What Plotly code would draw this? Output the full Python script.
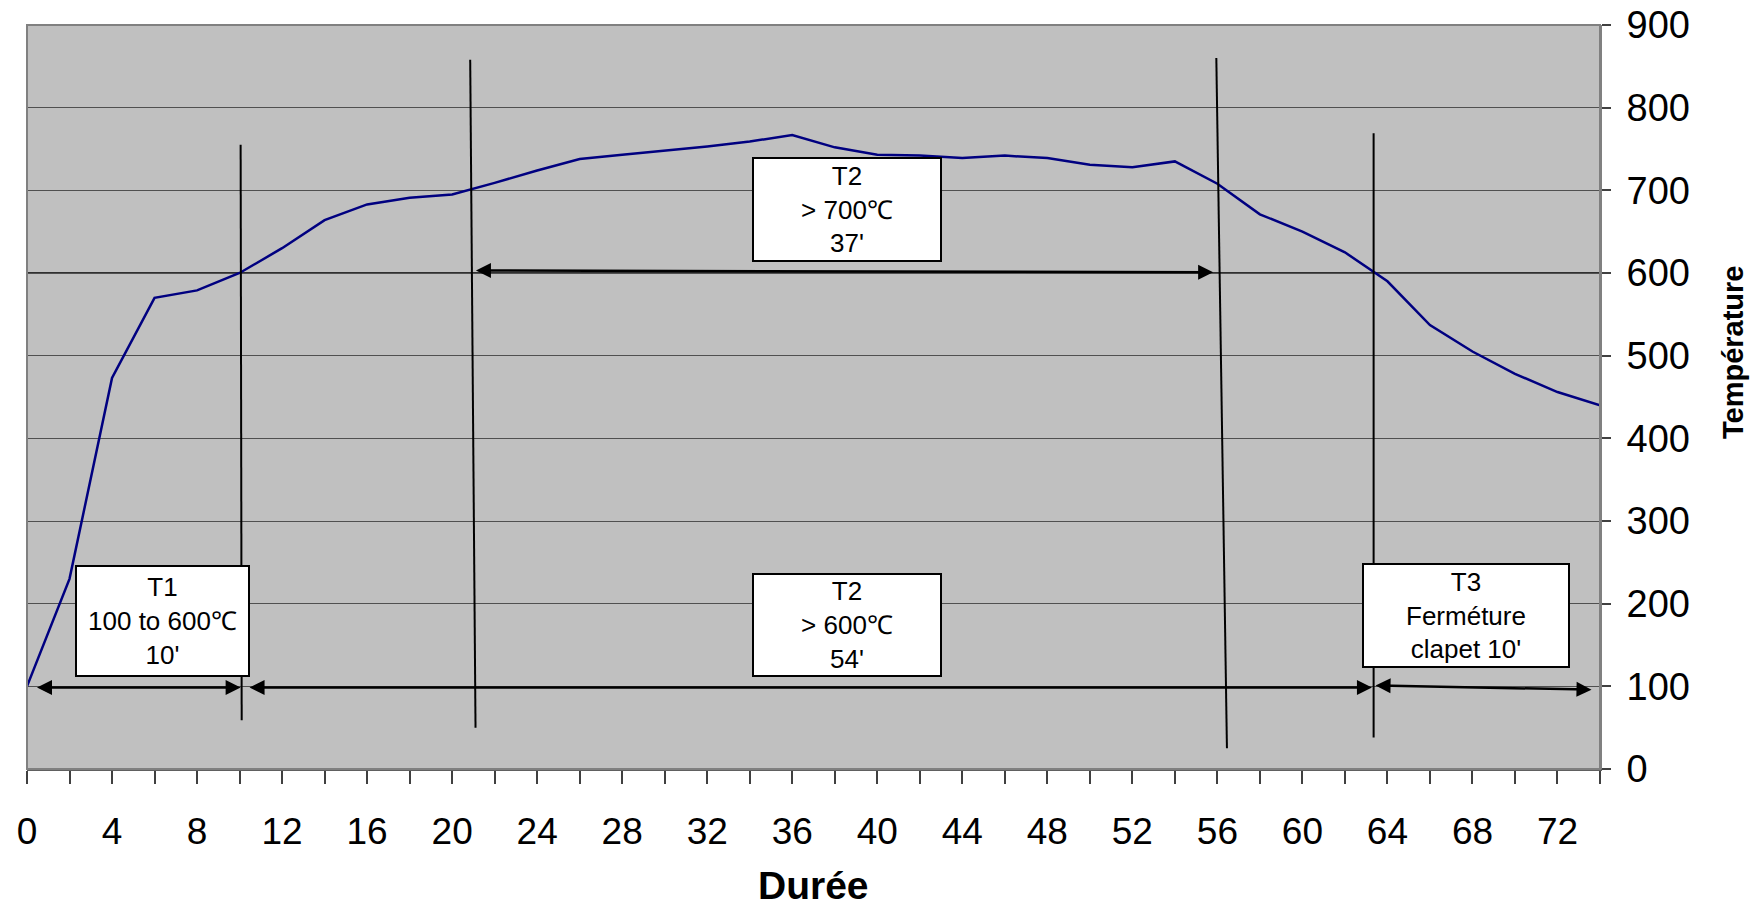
import plotly.graph_objects as go

# ---- data ----
duree = list(range(0, 76, 2))
temperature = [100, 230, 473, 570, 579, 600, 630, 664, 683, 691, 695, 709, 724,
               738, 743, 748, 753, 759, 767, 752, 743, 742, 739, 742, 739, 731,
               728, 735, 708, 671, 650, 625, 590, 537, 505, 478, 456, 440]

x_tick_vals = list(range(0, 76, 2))
x_tick_text = [str(v) if v % 4 == 0 else "" for v in x_tick_vals]
y_tick_vals = list(range(0, 1000, 100))

# vertical marker lines: (x0, y0, x1, y1) in data units
marker_lines = [
    (10.05, 755, 10.1, 59),
    (20.85, 858, 21.1, 50),
    (55.95, 860, 56.45, 25),
    (63.35, 769, 63.35, 38),
]

# double arrows: (x_start, y_start, x_end, y_end)
arrows = [
    (0.4, 98.5, 10.05, 98.5),
    (10.4, 98.5, 63.27, 98.5),
    (63.37, 101, 73.6, 96),
    (21.05, 603, 55.8, 601),
]

# text boxes: (text, x_center, y_center, width_px, height_px)
boxes = [
    ("T1<br>100 to 600℃<br>10'", 6.37, 179, 175, 112),
    ("T2<br>> 600℃<br>54'", 38.58, 174, 190, 104),
    ("T2<br>> 700℃<br>37'", 38.56, 677, 190, 105),
    ("T3<br>Ferméture<br>clapet 10'", 67.7, 186, 208, 105),
]

FONT = "Liberation Sans, Arial, sans-serif"

fig = go.Figure()
fig.add_trace(go.Scatter(x=duree, y=temperature, mode="lines",
                         line=dict(color="#000080", width=2.5),
                         hoverinfo="skip", showlegend=False))

shapes = []
shapes.append(dict(type="line", xref="x domain", yref="y", x0=0, x1=1, y0=600, y1=600,
                   line=dict(color="black", width=1.5), layer="below"))
for (x0, y0, x1, y1) in marker_lines:
    shapes.append(dict(type="line", xref="x", yref="y", x0=x0, y0=y0, x1=x1, y1=y1,
                       line=dict(color="black", width=2)))
shapes.append(dict(type="rect", xref="x domain", yref="y domain", x0=0, x1=1, y0=0, y1=1,
                   line=dict(color="#808080", width=2)))

annotations = []
for (xs, ys, xe, ye) in arrows:
    annotations.append(dict(x=xe, y=ye, ax=xs, ay=ys, xref="x", yref="y",
                            axref="x", ayref="y", text="", showarrow=True,
                            arrowhead=2, startarrowhead=2, arrowside="end+start",
                            arrowsize=1.2, startarrowsize=1.2, arrowwidth=2.5,
                            arrowcolor="black", standoff=0, startstandoff=0))
for (txt, xc, yc, w, h) in boxes:
    annotations.append(dict(x=xc, y=yc, xref="x", yref="y", text=txt, showarrow=False,
                            width=w - 4, height=h - 4, bgcolor="white",
                            bordercolor="black", borderwidth=2, borderpad=0,
                            align="center", valign="middle",
                            font=dict(family=FONT, size=26, color="black")))
annotations.append(dict(x=0.5, y=-0.157, xref="x domain", yref="paper", text="<b>Durée</b>",
                        showarrow=False, xanchor="center", yanchor="middle",
                        font=dict(family=FONT, size=39, color="black")))
annotations.append(dict(x=1.0846, y=0.5605, xref="paper", yref="paper",
                        text="<b>Température</b>", textangle=-90, showarrow=False,
                        xanchor="center", yanchor="middle",
                        font=dict(family=FONT, size=29, color="black")))

fig.update_layout(
    width=1746, height=896,
    margin=dict(l=19, r=154, t=17, b=135, autoexpand=False),
    paper_bgcolor="white", plot_bgcolor="#C0C0C0",
    shapes=shapes, annotations=annotations,
    font=dict(family=FONT, color="black"),
    xaxis=dict(range=[0, 74], tickmode="array", tickvals=x_tick_vals, ticktext=x_tick_text,
               ticks="outside", ticklen=13, tickwidth=1.5, tickcolor="#404040",
               showgrid=False, zeroline=False, showline=True, linecolor="#606060",
               linewidth=2, tickfont=dict(size=37, family=FONT), ticklabelstandoff=16,
               automargin=False, ticklabeloverflow="allow"),
    yaxis=dict(range=[0, 900], side="right", tickvals=y_tick_vals, ticks="outside",
               ticklen=9, tickwidth=1.5, tickcolor="#404040",
               showgrid=True, gridcolor="#505050", gridwidth=1, zeroline=False,
               showline=True, linecolor="#808080", linewidth=2,
               tickfont=dict(size=38, family=FONT), ticklabelstandoff=8,
               automargin=False, ticklabeloverflow="allow"),
)

fig.write_html("out.html")
